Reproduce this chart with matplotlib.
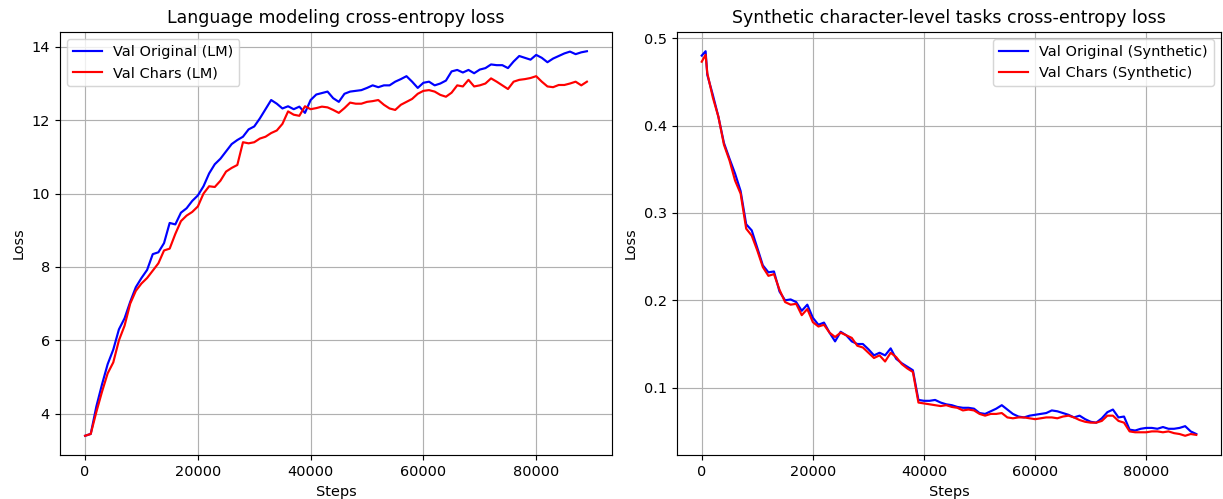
import matplotlib
matplotlib.use("Agg")
import matplotlib.pyplot as plt

# ---------------- Data ----------------
lm_steps = list(range(0, 90000, 1000))
lm_val_original = [
    3.40, 3.45, 4.20, 4.80, 5.35, 5.75, 6.30, 6.60, 7.05, 7.45,
    7.70, 7.92, 8.35, 8.40, 8.65, 9.20, 9.16, 9.48, 9.60, 9.80,
    9.95, 10.20, 10.55, 10.80, 10.95, 11.15, 11.35, 11.46, 11.55, 11.75,
    11.83, 12.05, 12.30, 12.55, 12.45, 12.32, 12.38, 12.30, 12.37, 12.20,
    12.55, 12.70, 12.74, 12.78, 12.60, 12.50, 12.72, 12.78, 12.80, 12.82,
    12.88, 12.95, 12.90, 12.95, 12.95, 13.05, 13.12, 13.20, 13.05, 12.88,
    13.02, 13.05, 12.95, 13.00, 13.08, 13.33, 13.37, 13.30, 13.37, 13.28,
    13.38, 13.42, 13.52, 13.50, 13.50, 13.42, 13.60, 13.75, 13.70, 13.65,
    13.78, 13.70, 13.58, 13.68, 13.75, 13.82, 13.87, 13.80, 13.85, 13.88,
]
lm_val_chars = [
    3.40, 3.45, 4.05, 4.60, 5.10, 5.40, 6.00, 6.40, 7.00, 7.35,
    7.55, 7.70, 7.90, 8.10, 8.45, 8.50, 8.90, 9.25, 9.40, 9.50,
    9.65, 10.00, 10.20, 10.18, 10.35, 10.60, 10.70, 10.78, 11.40, 11.37,
    11.40, 11.50, 11.55, 11.65, 11.72, 11.90, 12.24, 12.15, 12.12, 12.38,
    12.30, 12.33, 12.37, 12.35, 12.28, 12.20, 12.33, 12.48, 12.45, 12.45,
    12.50, 12.52, 12.55, 12.42, 12.32, 12.28, 12.42, 12.50, 12.58, 12.72,
    12.80, 12.82, 12.78, 12.69, 12.64, 12.75, 12.95, 12.92, 13.10, 12.92,
    12.95, 13.00, 13.14, 13.05, 12.95, 12.85, 13.05, 13.10, 13.12, 13.15,
    13.20, 13.05, 12.92, 12.90, 12.96, 12.96, 13.00, 13.05, 12.95, 13.05,
]

syn_steps = [0, 700] + list(range(1000, 90000, 1000))
syn_val_original = [
    0.480, 0.485,
    0.458, 0.435, 0.410, 0.380, 0.362, 0.345, 0.325, 0.287, 0.280,
    0.260, 0.240, 0.232, 0.233, 0.210, 0.200, 0.201, 0.198, 0.188, 0.195,
    0.180, 0.172, 0.1745, 0.163, 0.153, 0.164, 0.160, 0.153, 0.150, 0.150,
    0.144, 0.137, 0.140, 0.137, 0.145, 0.133, 0.128, 0.124, 0.120, 0.086,
    0.085, 0.085, 0.086, 0.083, 0.081, 0.080, 0.078, 0.077, 0.077, 0.076,
    0.071, 0.070, 0.073, 0.076, 0.080, 0.075, 0.070, 0.067, 0.066, 0.068,
    0.069, 0.070, 0.071, 0.074, 0.073, 0.071, 0.069, 0.066, 0.068, 0.064,
    0.061, 0.060, 0.065, 0.072, 0.075, 0.066, 0.067, 0.052, 0.051, 0.053,
    0.054, 0.054, 0.053, 0.055, 0.053, 0.053, 0.054, 0.056, 0.050, 0.047,
]
syn_val_chars = [
    0.473, 0.481,
    0.460, 0.432, 0.410, 0.378, 0.360, 0.337, 0.322, 0.282, 0.274,
    0.257, 0.238, 0.228, 0.230, 0.212, 0.198, 0.195, 0.196, 0.183, 0.190,
    0.175, 0.170, 0.172, 0.163, 0.158, 0.163, 0.160, 0.157, 0.148, 0.146,
    0.140, 0.134, 0.137, 0.130, 0.140, 0.135, 0.127, 0.122, 0.118, 0.083,
    0.082, 0.081, 0.080, 0.079, 0.080, 0.078, 0.077, 0.074, 0.075, 0.074,
    0.070, 0.068, 0.070, 0.070, 0.071, 0.066, 0.065, 0.066, 0.066, 0.065,
    0.064, 0.065, 0.066, 0.066, 0.065, 0.067, 0.068, 0.066, 0.063, 0.061,
    0.060, 0.060, 0.062, 0.068, 0.068, 0.062, 0.060, 0.050, 0.049, 0.049,
    0.049, 0.050, 0.050, 0.049, 0.050, 0.048, 0.047, 0.045, 0.047, 0.046,
]

# ---------------- Plot ----------------
W, H = 1223, 499
DPI = 104
fig = plt.figure(figsize=(W / DPI, H / DPI), dpi=DPI)

def px_axes(x0, x1, y0, y1):
    return fig.add_axes([x0 / W, (H - y1) / H, (x1 - x0) / W, (y1 - y0) / H])

ax1 = px_axes(60, 612, 32, 455)
ax2 = px_axes(677, 1221, 32, 455)

ax1.plot(lm_steps, lm_val_original, color="blue", label="Val Original (LM)")
ax1.plot(lm_steps, lm_val_chars, color="red", label="Val Chars (LM)")
ax1.set_title("Language modeling cross-entropy loss")
ax1.set_xlabel("Steps")
ax1.set_ylabel("Loss")
ax1.grid(True)
ax1.legend(loc="upper left")

ax2.plot(syn_steps, syn_val_original, color="blue", label="Val Original (Synthetic)")
ax2.plot(syn_steps, syn_val_chars, color="red", label="Val Chars (Synthetic)")
ax2.set_title("Synthetic character-level tasks cross-entropy loss")
ax2.set_xlabel("Steps")
ax2.set_ylabel("Loss")
ax2.grid(True)
ax2.legend(loc="upper right")

fig.savefig("out.png", dpi=DPI)
